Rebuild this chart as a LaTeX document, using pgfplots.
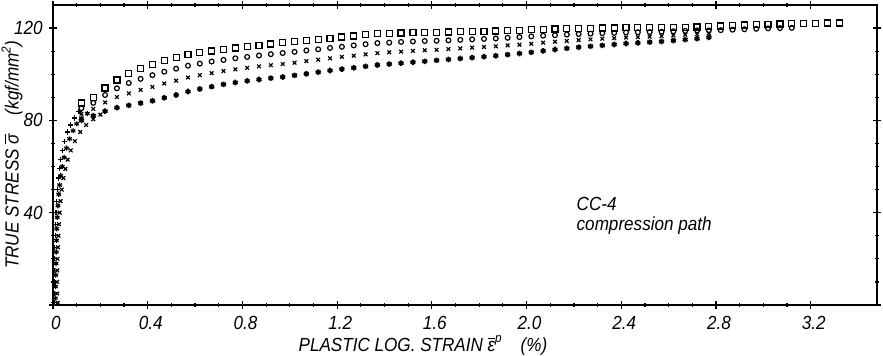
\documentclass[border=0pt]{standalone}
\usepackage{fontspec}
\setmainfont{Liberation Sans}[FakeStretch=0.9]
\usepackage{pgfplots}
\pgfplotsset{compat=1.18}
\newcommand{\barsig}{\hbox{$\overline{\hbox{\itshape σ}}$}}
\newcommand{\bareps}{\hbox{$\overline{\hbox{\itshape ε}}$}\raisebox{0.9ex}{\fontsize{6.5}{7}\selectfont\itshape p}}
\begin{document}
\begin{tikzpicture}
\begin{axis}[
  scale only axis, width=412pt, height=150pt,
  xmin=0, xmax=3.48, ymin=0, ymax=130,
  axis line style={line width=1pt},
  xtick={0,0.4,0.8,1.2,1.6,2.0,2.4,2.8,3.2},
  xticklabels={0,0.4,0.8,1.2,1.6,2.0,2.4,2.8,3.2},
  ytick={0,40,80,120}, yticklabels={,40,80,120},
  minor x tick num=3, minor y tick num=3,
  tick align=center, major tick length=4pt, minor tick length=2pt,
  tick style={line width=0.6pt, black},
  /pgf/number format/assume math mode=true,
  ticklabel style={font=\fontsize{9.5}{10}\selectfont\itshape},
  xticklabel style={anchor=north, inner sep=0pt, yshift=-3.5pt, xshift=1.5pt},
  yticklabel style={anchor=east, inner sep=0pt, xshift=-3pt},
  label style={font=\fontsize{9.5}{11}\selectfont\itshape, inner sep=0pt},
  xlabel={PLASTIC LOG. STRAIN \bareps\quad(\%)},
  xlabel style={at={(axis description cs:0.449,0)}, anchor=north, yshift=-15pt},
  ylabel={TRUE STRESS \barsig\quad(kgf/mm\raisebox{0.8ex}{\fontsize{6.5}{7}\selectfont 2})},
  ylabel style={at={(axis description cs:-0.0364,0.5)}, anchor=south},
  every axis plot/.append style={only marks, black, mark options={line width=0.6pt}},
]
% early dense band
\addplot[mark=+, mark size=1.3pt] coordinates {
(0.004,1)(0.005,5)(0.005,10)(0.006,15)(0.007,20)(0.008,25)(0.009,30)(0.011,35)(0.013,40)(0.015,45)
(0.018,50)(0.022,55)(0.026,59)(0.032,63)(0.04,67)(0.05,71)(0.062,75)(0.075,78)(0.09,81)(0.11,84)};
\addplot[mark=x, mark size=1.3pt] coordinates {
(0.02,1)(0.018,5)(0.017,10)(0.018,15)(0.019,20)(0.021,25)(0.023,30)(0.025,35)(0.028,40)(0.032,45)
(0.037,50)(0.044,55)(0.052,59)(0.062,63)(0.075,67)(0.092,71)(0.115,75)(0.14,78)(0.17,80.5)(0.2,82.5)};
\addplot[mark=asterisk, mark size=1.3pt] coordinates {
(0.01,3)(0.011,8)(0.012,13)(0.013,18)(0.014,23)(0.015,28)(0.016,33)(0.018,38)(0.021,43)(0.024,48)
(0.028,52)(0.033,56)(0.039,60)(0.047,64)(0.057,68)(0.07,72)(0.085,75.5)(0.1,78.5)(0.12,81)(0.145,83)};
% top row: squares
\addplot[mark=square, mark size=1.5pt] coordinates {
(0.12,87.5)(0.17,90.0)(0.22,94.0)(0.27,97.5)(0.32,100.3)(0.37,102.5)(0.42,104.3)(0.47,106.0)(0.52,107.3)(0.57,108.5)
(0.62,109.3)(0.67,110.1)(0.72,110.8)(0.77,111.4)(0.82,112.0)(0.87,112.6)(0.92,113.1)(0.97,113.6)(1.02,114.1)(1.07,114.6)
(1.12,115.1)(1.17,115.6)(1.22,116.1)(1.27,116.6)(1.32,117.1)(1.37,117.5)(1.42,117.7)(1.47,117.9)(1.52,118.0)(1.57,118.1)
(1.62,118.2)(1.67,118.3)(1.72,118.4)(1.77,118.5)(1.82,118.6)(1.87,118.7)(1.92,118.9)(1.97,119.1)(2.02,119.3)(2.07,119.5)
(2.12,119.6)(2.17,119.7)(2.22,119.8)(2.27,119.9)(2.32,120.0)(2.37,120.0)(2.42,120.1)(2.47,120.1)(2.52,120.2)(2.57,120.2)
(2.62,120.3)(2.67,120.4)(2.72,120.5)(2.77,120.7)(2.82,120.9)(2.87,121.1)(2.92,121.3)(2.97,121.5)(3.02,121.7)(3.07,121.8)
(3.12,121.9)(3.17,122.0)(3.22,122.1)(3.27,122.2)(3.32,122.2)};
% second row: circles
\addplot[mark=o, mark size=1.2pt] coordinates {
(0.12,85.3)(0.17,87.6)(0.22,91.0)(0.27,93.9)(0.32,96.2)(0.37,98.0)(0.42,99.6)(0.47,101.1)(0.52,102.4)(0.57,103.7)
(0.62,104.6)(0.67,105.5)(0.72,106.2)(0.77,106.9)(0.82,107.5)(0.87,108.1)(0.92,108.7)(0.97,109.2)(1.02,109.7)(1.07,110.3)
(1.12,110.8)(1.17,111.4)(1.22,111.9)(1.27,112.5)(1.32,113.0)(1.37,113.5)(1.42,113.7)(1.47,114.0)(1.52,114.2)(1.57,114.4)
(1.62,114.5)(1.67,114.7)(1.72,114.9)(1.77,115.1)(1.82,115.3)(1.87,115.5)(1.92,115.8)(1.97,116.1)(2.02,116.4)(2.07,116.7)
(2.12,116.9)(2.17,117.2)(2.22,117.4)(2.27,117.6)(2.32,117.8)(2.37,117.9)(2.42,118.1)(2.47,118.2)(2.52,118.3)(2.57,118.4)
(2.62,118.6)(2.67,118.8)(2.72,119.0)(2.77,119.0)(2.82,119.1)(2.87,119.3)(2.92,119.5)(2.97,119.7)(3.02,119.9)(3.07,120.0)
(3.12,120.1)};
% third row: crosses
\addplot[mark=x, mark size=1.3pt] coordinates {
(0.12,82.9)(0.17,85.0)(0.22,87.8)(0.27,90.1)(0.32,91.7)(0.37,93.2)(0.42,94.5)(0.47,96.0)(0.52,97.2)(0.57,98.6)
(0.62,99.6)(0.67,100.5)(0.72,101.4)(0.77,102.1)(0.82,102.8)(0.87,103.4)(0.92,103.9)(0.97,104.4)(1.02,105.0)(1.07,105.7)
(1.12,106.3)(1.17,106.9)(1.22,107.5)(1.27,108.0)(1.32,108.6)(1.37,109.1)(1.42,109.5)(1.47,109.8)(1.52,110.1)(1.57,110.4)
(1.62,110.6)(1.67,110.9)(1.72,111.2)(1.77,111.5)(1.82,111.8)(1.87,112.1)(1.92,112.5)(1.97,112.8)(2.02,113.2)(2.07,113.7)
(2.12,114.1)(2.17,114.4)(2.22,114.8)(2.27,115.1)(2.32,115.4)(2.37,115.6)(2.42,115.9)(2.47,116.1)(2.52,116.3)(2.57,116.5)
(2.62,116.8)(2.67,117.1)(2.72,117.3)(2.77,117.8)};
% bottom row: dark asterisks
\addplot[mark=asterisk, mark size=1.4pt, mark options={line width=0.9pt}] coordinates {
(0.12,80.0)(0.17,82.0)(0.22,84.0)(0.27,85.5)(0.32,86.5)(0.37,87.5)(0.42,88.5)(0.47,89.8)(0.52,91.0)(0.57,92.5)
(0.62,93.6)(0.67,94.6)(0.72,95.6)(0.77,96.4)(0.82,97.1)(0.87,97.7)(0.92,98.3)(0.97,98.8)(1.02,99.5)(1.07,100.2)
(1.12,100.9)(1.17,101.6)(1.22,102.2)(1.27,102.8)(1.32,103.4)(1.37,104.0)(1.42,104.4)(1.47,104.8)(1.52,105.2)(1.57,105.6)
(1.62,106.0)(1.67,106.4)(1.72,106.8)(1.77,107.2)(1.82,107.6)(1.87,108.0)(1.92,108.5)(1.97,109.0)(2.02,109.5)(2.07,110.1)
(2.12,110.7)(2.17,111.2)(2.22,111.7)(2.27,112.1)(2.32,112.5)(2.37,112.9)(2.42,113.3)(2.47,113.6)(2.52,113.9)(2.57,114.2)
(2.62,114.6)(2.67,115.0)(2.72,115.4)(2.77,116.0)};
\node[anchor=north west, align=left, inner sep=0pt, font=\fontsize{9.5}{10}\selectfont\itshape] at (axis cs:2.21,47) {CC-4\\compression path};
\end{axis}
\pgfresetboundingbox
\useasboundingbox (-26.5pt,-25pt) rectangle (415pt,152.5pt);
\end{tikzpicture}
\end{document}
